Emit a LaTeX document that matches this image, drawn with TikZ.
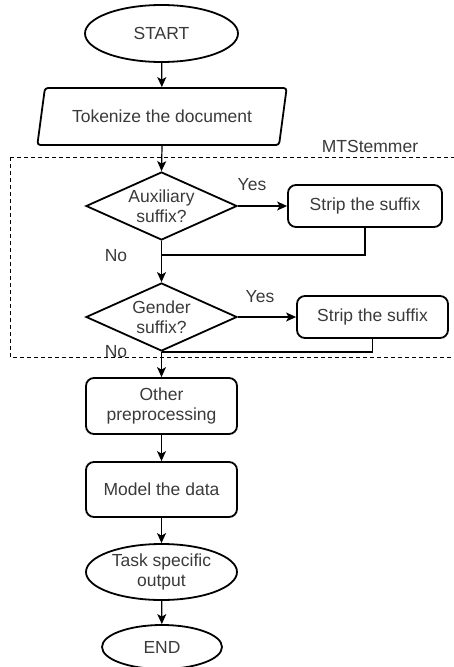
\documentclass[tikz,border=0pt]{standalone}
\usepackage{fontspec}
\setmainfont{Liberation Sans}
\usetikzlibrary{shapes.geometric,arrows.meta}
\definecolor{txt}{HTML}{3A3A3A}
\begin{document}
\begin{tikzpicture}[x=1pt,y=-1pt,
  every node/.style={font=\fontsize{17.5}{20}\selectfont, text=txt, align=center, inner sep=0pt},
  shapeline/.style={draw=black, line width=1.8pt},
  term/.style={shapeline, ellipse, minimum width=151pt, minimum height=56pt},
  procbox/.style={shapeline, rectangle, rounded corners=8pt, minimum width=151pt, minimum height=55pt},
  decision/.style={shapeline, diamond, minimum width=151pt, minimum height=68pt},
  iobox/.style={shapeline, trapezium, trapezium left angle=65.5, trapezium right angle=114.5,
    trapezium stretches=true, rounded corners=3pt, minimum width=250pt, minimum height=57pt},
  conn/.style={draw=black, line width=1.2pt},
  arr/.style={conn, -{Stealth[length=10pt,width=9pt,inset=2.5pt]}},
  lbl/.style={font=\fontsize{17.5}{20}\selectfont, text=txt}
]
\clip (0,0) rectangle (454,667);
\useasboundingbox (0,0) rectangle (454,667);

% dashed container
\draw[line width=1pt, dash pattern=on 4pt off 3pt] (10,157) rectangle (470,357);
\node[lbl] (mts) at (370,146) {MTStemmer};

\node[term, minimum width=153pt, minimum height=57pt] (start) at (161.5,33.5) {START};
\node[iobox] (tok) at (162,116.5) {Tokenize the document};
\node[decision, label={[lbl, align=center]center:Auxiliary\\suffix?}] (d1) at (161.5,206) {};
\node[procbox, minimum width=154pt, minimum height=42pt] (s1) at (365,206) {Strip the suffix};
\node[decision, label={[lbl, align=center]center:Gender\\suffix?}] (d2) at (161.5,317) {};
\node[procbox, minimum width=151pt, minimum height=42pt] (s2) at (372.5,317) {Strip the suffix};
\node[procbox, minimum height=56pt] (other) at (161.5,406) {Other\\preprocessing};
\node[procbox] (model) at (161.5,489.5) {Model the data};
\node[term] (task) at (161.5,572) {Task specific\\output};
\node[term, minimum width=120pt, minimum height=44pt] (end) at (162,647) {END};

\node[lbl] (yes1) at (252,185) {Yes};
\node[lbl] (yes2) at (260,297) {Yes};
\node[lbl] (no1) at (116,256) {No};
\node[lbl] (no2) at (116,352) {No};

\coordinate (j1) at (161.5,255);

\draw[arr] (start) -- (tok);
\draw[arr] (tok.south) -- (d1.north);
\draw[arr] (d1.east) -- (s1.west);
\draw[conn] (s1.south) |- (j1);
\draw[arr] (d1.south) -- (d2.north);
\draw[arr] (d2.east) -- (s2.west);
\draw[conn] (s2.south) |- (d2.south);
\draw[arr] (d2.south) -- (other.north);
\draw[arr] (other) -- (model);
\draw[arr] (model) -- (task);
\draw[arr] (task) -- (end);
\end{tikzpicture}
\end{document}
